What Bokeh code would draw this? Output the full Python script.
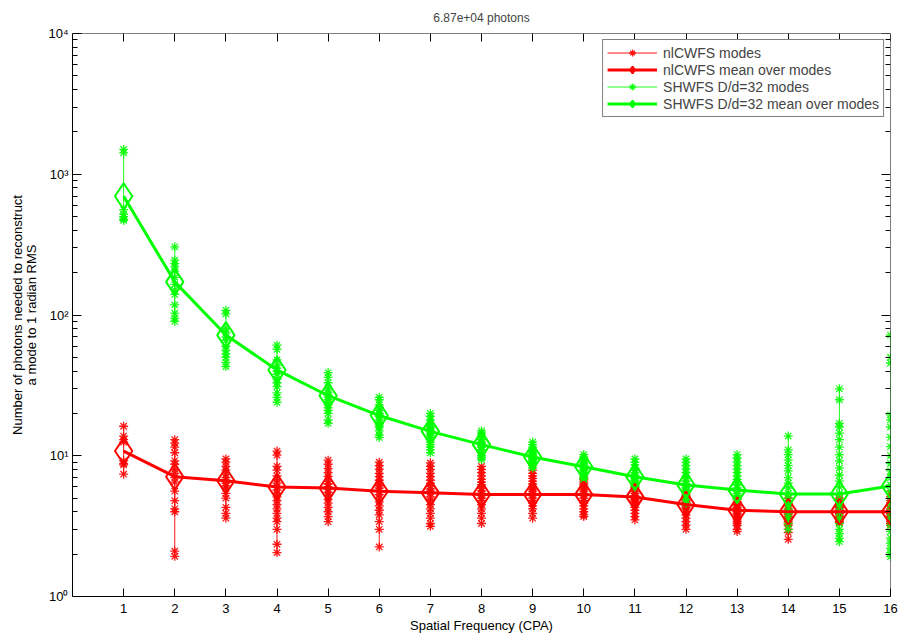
from bokeh.plotting import figure
from bokeh.models import (LogAxis, LinearAxis, FixedTicker, Legend, LegendItem, Range1d)
from bokeh.embed import file_html
from bokeh.resources import INLINE

# ---------------- data ----------------
freqs = list(range(1, 17))
x_tick_labels = [str(f) for f in freqs]

red_mean = [10.8, 7.1, 6.65, 6.0, 5.9, 5.6, 5.45, 5.3, 5.3, 5.3, 5.1, 4.5, 4.1, 4.0, 4.0, 4.0]
green_mean = [698, 172, 72, 40.7, 26.7, 19.3, 14.9, 12.0, 9.8, 8.35, 7.1, 6.2, 5.7, 5.35, 5.35, 6.1]

red_modes = [
    [16.2, 13.8, 13.0, 12.5, 9.2, 8.8, 8.6, 7.4],
    [13.0, 12.3, 11.5, 10.5, 9.2, 8.7, 8.0, 7.5, 7.0, 6.5, 5.6, 4.8, 4.2, 4.0, 2.1, 1.93],
    [9.5, 9.0, 8.4, 7.9, 7.4, 7.0, 6.7, 6.4, 6.1, 5.9, 5.4, 5.0, 4.3, 3.9, 3.6],
    [10.8, 10.1, 8.4, 7.9, 7.2, 6.8, 6.4, 6.0, 5.7, 5.4, 5.1, 4.8, 4.5, 4.2, 3.9, 3.6, 3.4, 3.0, 2.35, 2.05],
    [9.3, 8.7, 8.1, 7.6, 7.1, 6.6, 6.3, 6.0, 5.8, 5.5, 5.2, 4.9, 4.6, 4.3, 4.0, 3.7, 3.4],
    [9.0, 8.5, 8.0, 7.5, 7.1, 6.7, 6.4, 6.1, 5.9, 5.6, 5.3, 5.0, 4.7, 4.4, 4.1, 3.8, 3.4, 3.0, 2.25],
    [8.9, 8.4, 8.0, 7.5, 7.1, 6.7, 6.4, 6.1, 5.8, 5.6, 5.4, 5.1, 4.8, 4.5, 4.2, 3.9, 3.6, 3.3, 3.15],
    [8.4, 8.0, 7.6, 7.2, 6.8, 6.5, 6.2, 5.9, 5.6, 5.4, 5.2, 5.0, 4.8, 4.5, 4.2, 3.9, 3.6, 3.3],
    [7.9, 7.5, 7.2, 6.9, 6.6, 6.3, 6.0, 5.8, 5.6, 5.4, 5.2, 5.0, 4.8, 4.6, 4.4, 4.2, 3.9, 3.6],
    [7.0, 6.8, 6.6, 6.4, 6.2, 6.0, 5.8, 5.6, 5.4, 5.2, 5.0, 4.8, 4.6, 4.4, 4.2, 4.0, 3.8, 3.7],
    [6.2, 6.0, 5.8, 5.6, 5.4, 5.2, 5.1, 5.0, 4.9, 4.8, 4.7, 4.6, 4.5, 4.3, 4.1, 3.9, 3.7, 3.5],
    [5.5, 5.3, 5.1, 5.0, 4.9, 4.8, 4.7, 4.6, 4.5, 4.4, 4.3, 4.2, 4.0, 3.8, 3.6, 3.4, 3.2, 3.0],
    [4.9, 4.7, 4.5, 4.4, 4.3, 4.2, 4.1, 4.0, 3.9, 3.8, 3.7, 3.6, 3.5, 3.4, 3.3, 3.2, 3.0, 2.9],
    [5.0, 4.8, 4.6, 4.4, 4.2, 4.1, 4.0, 3.9, 3.8, 3.7, 3.6, 3.5, 3.4, 3.3, 3.2, 3.0, 2.85, 2.55],
    [5.0, 4.8, 4.6, 4.4, 4.3, 4.2, 4.1, 4.0, 3.9, 3.8, 3.7, 3.6, 3.5, 3.4, 3.35],
    [5.4, 5.1, 4.8, 4.6, 4.4, 4.2, 4.1, 4.0, 3.9, 3.8, 3.7, 3.6, 3.5, 3.4, 3.3, 3.2],
]

green_modes = [
    [1500, 1420, 560, 520, 500, 480, 470],
    [305, 245, 232, 220, 205, 185, 165, 150, 140, 118, 103, 95, 90],
    [108, 102, 80, 75, 70, 66, 60, 56, 53, 50, 46, 43],
    [61, 57, 48, 44, 42, 40, 38, 35, 33, 31, 28, 26, 24],
    [39, 36, 33, 30, 28, 27, 26, 25, 24, 23, 22, 21, 20, 18, 17],
    [26, 25, 23, 22, 21, 20, 19.5, 19, 18, 17, 16.5, 16, 15, 14, 13.5],
    [20, 19, 18, 17, 16.5, 16, 15.5, 15, 14.5, 14, 13.5, 13, 12.5, 12, 11.5, 11, 10.5],
    [15, 14.5, 14, 13.5, 13, 12.5, 12.2, 12, 11.8, 11.5, 11, 10.5, 10, 9.7, 9.4],
    [12.5, 12, 11.5, 11, 10.8, 10.5, 10.2, 10, 9.8, 9.6, 9.4, 9.2, 9, 8.8, 8.5, 8.2],
    [10.2, 9.8, 9.5, 9.2, 9, 8.8, 8.6, 8.4, 8.2, 8, 7.8, 7.6, 7.4, 7.2, 7, 6.8],
    [9.5, 9, 8.6, 8.2, 7.9, 7.6, 7.3, 7.1, 6.9, 6.7, 6.5, 6.3, 6.1, 6.0],
    [9.5, 9, 8.5, 8, 7.6, 7.2, 6.9, 6.6, 6.3, 6.1, 5.9, 5.7, 5.5, 5.2, 4.9, 4.6],
    [10.2, 9.6, 9, 8.5, 8, 7.6, 7.2, 6.8, 6.5, 6.2, 5.9, 5.6, 5.4, 5.2, 5, 4.9],
    [13.8, 11, 10.2, 9.3, 8.5, 7.8, 7, 6.4, 5.9, 5.4, 5, 4.6, 4.2, 3.9, 3.6, 3.3, 3.0],
    [29.9, 25, 17, 16, 14.5, 13, 11.5, 10.2, 9.2, 8.2, 7.3, 6.6, 6, 5.4, 4.9, 4.4, 4, 3.6, 3.3, 3, 2.8, 2.6, 2.45],
    [72, 50, 45.6, 19.5, 18, 16, 13.5, 11.6, 10, 8.8, 7.8, 7, 6.2, 5.6, 5, 4.5, 4, 3.6, 3.2, 2.9, 2.6, 2.4, 2.2, 2.05, 1.92],
]

y_major = [1, 10, 100, 1000, 10000]
y_major_labels = ["10\u2070", "10\u00b9", "10\u00b2", "10\u00b3", "10\u2074"]

RED = "#ff0000"
GREEN = "#00ff00"
FONT = "Liberation Sans"

# ---------------- figure ----------------
p = figure(width=898, height=635, y_axis_type="log",
           x_range=Range1d(0, 16), y_range=Range1d(1, 1e4),
           output_backend="svg", toolbar_location=None,
           min_border_left=72, min_border_right=8, min_border_top=0, min_border_bottom=0)
p.title.text = "6.87e+04 photons"
p.title.align = "center"
p.title.text_font = FONT
p.title.text_font_size = "12px"
p.title.text_font_style = "normal"
p.title.standoff = 17
p.grid.visible = False
p.outline_line_color = None
p.background_fill_color = "white"
p.border_fill_color = "white"

y_minor = [m * d for d in y_major[:-1] for m in range(2, 10)]
yticker = FixedTicker(ticks=y_major, minor_ticks=y_minor)
xticker = FixedTicker(ticks=freqs)


def style_axis(ax, major_in, minor_in=0):
    ax.axis_line_color = "black"
    ax.major_tick_line_color = "black"
    ax.minor_tick_line_color = "black"
    ax.major_tick_in = major_in
    ax.major_tick_out = 0
    ax.minor_tick_in = minor_in
    ax.minor_tick_out = 0
    ax.major_label_text_font = FONT
    ax.major_label_text_font_size = "13px"
    ax.major_label_text_color = "black"
    ax.axis_label_text_font = FONT
    ax.axis_label_text_font_size = "13px"
    ax.axis_label_text_font_style = "normal"
    ax.axis_label_text_color = "black"


xa = p.xaxis[0]
xa.ticker = xticker
xa.major_label_overrides = {f: lab for f, lab in zip(freqs, x_tick_labels)}
style_axis(xa, 8)
xa.major_label_standoff = 7
xa.axis_label = "Spatial Frequency (CPA)"
xa.axis_label_standoff = 2

ya = p.yaxis[0]
ya.ticker = yticker
ya.major_label_overrides = {v: lab for v, lab in zip(y_major, y_major_labels)}
style_axis(ya, 9, 5)
ya.major_label_standoff = 4
ya.axis_label = "Number of photons needed to reconstruct\na mode to 1 radian RMS"
ya.axis_label_standoff = 6
ya.axis_label_text_line_height = 0.95

# frame-box axes on top and right: ticks only, pinned to the frame edges
top = LinearAxis(ticker=xticker, fixed_location=1e4)
style_axis(top, 8)
top.major_label_overrides = {f: "" for f in freqs}
top.major_label_text_font_size = "1px"
top.major_label_standoff = 0
p.add_layout(top, "above")

right = LogAxis(ticker=yticker, fixed_location=16)
style_axis(right, 9, 5)
right.major_label_overrides = {v: "" for v in y_major}
right.major_label_text_font_size = "1px"
right.major_label_standoff = 0
p.add_layout(right, "right")

# ---------------- glyphs ----------------
def modes_xy(modes):
    xs, ys, fx, fy = [], [], [], []
    for f, vals in zip(freqs, modes):
        xs.append([f] * len(vals))
        ys.append(vals)
        fx.extend([f] * len(vals))
        fy.extend(vals)
    return xs, ys, fx, fy


rxs, rys, rfx, rfy = modes_xy(red_modes)
gxs, gys, gfx, gfy = modes_xy(green_modes)

r_ml = p.multi_line(rxs, rys, line_color=RED, line_width=1, line_alpha=0.9)
r_st = p.scatter(rfx, rfy, marker="asterisk", size=9, line_color=RED, line_width=1.3, line_alpha=0.9)
g_ml = p.multi_line(gxs, gys, line_color=GREEN, line_width=1, line_alpha=0.9)
g_st = p.scatter(gfx, gfy, marker="asterisk", size=9, line_color=GREEN, line_width=1.3, line_alpha=0.9)

r_ln = p.line(freqs, red_mean, line_color=RED, line_width=3)
r_dm = p.scatter(freqs, red_mean, marker="diamond", size=26, line_color=RED, line_width=2, fill_color=None)
g_ln = p.line(freqs, green_mean, line_color=GREEN, line_width=3)
g_dm = p.scatter(freqs, green_mean, marker="diamond", size=26, line_color=GREEN, line_width=2, fill_color=None)

legend = Legend(items=[
    LegendItem(label="nlCWFS modes", renderers=[r_ml, r_st]),
    LegendItem(label="nlCWFS mean over modes", renderers=[r_ln, r_dm]),
    LegendItem(label="SHWFS D/d=32 modes", renderers=[g_ml, g_st]),
    LegendItem(label="SHWFS D/d=32 mean over modes", renderers=[g_ln, g_dm]),
], location="top_right")
legend.margin = 6
legend.padding = 4
legend.spacing = 0
legend.glyph_width = 50
legend.glyph_height = 17
legend.label_height = 17
legend.label_standoff = 6
legend.label_text_font = FONT
legend.label_text_font_size = "14px"
legend.border_line_color = "black"
legend.border_line_width = 1
legend.background_fill_color = "white"
legend.background_fill_alpha = 1.0
p.add_layout(legend)

open("out.html", "w").write(file_html(p, INLINE))
